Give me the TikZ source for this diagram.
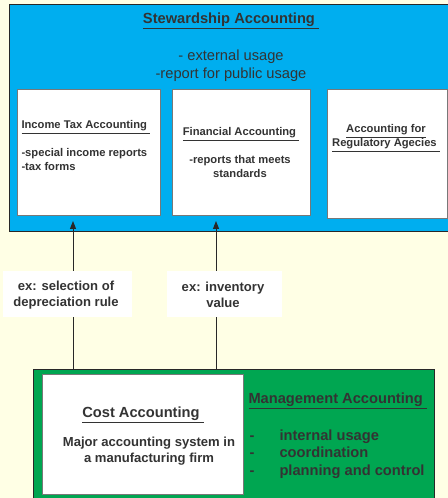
\documentclass[tikz,border=0pt]{standalone}
\usepackage{fontspec}
\setmainfont{Liberation Sans}
\usetikzlibrary{arrows.meta}
\tikzset{every picture/.style={line width=0.75pt}}
\definecolor{paper}{RGB}{255,255,229}
\definecolor{steward}{RGB}{0,174,239}
\definecolor{mgmt}{RGB}{0,166,81}
\definecolor{ink}{RGB}{51,51,51}
\definecolor{edge}{RGB}{40,40,40}
\definecolor{boxedge}{RGB}{120,120,120}

\begin{document}
\begin{tikzpicture}[x=0.75pt,y=0.75pt,yscale=-1,xscale=1,
  panel/.style={draw=boxedge,fill=white,anchor=north west,inner sep=0pt},
  tag/.style={fill=white,anchor=north west,inner sep=0pt},
  boxtext/.style={inner sep=0.75pt,text=ink,font=\fontsize{8.4}{10.5}\selectfont\bfseries},
  headtext/.style={inner sep=0.75pt,text=ink,font=\fontsize{11}{13.5}\selectfont\bfseries},
  feed/.style={draw=edge,-{Triangle[length=6pt,width=4.5pt]}}]
\useasboundingbox (0,0) rectangle (448,498);
\fill [paper] (0,0) rectangle (448,498);

%Stewardship panel
\draw [draw=edge,fill=steward] (9,5) rectangle (455,232);
\node [panel,minimum width=107.25pt,minimum height=94.5pt] (incomeTax) at (17,89) {};
\node [panel,minimum width=103.5pt,minimum height=94.5pt] (financial) at (172,89) {};
\node [panel,minimum width=90pt,minimum height=96.75pt] (regulatory) at (327,89) {};

%Management panel
\draw [draw=edge,fill=mgmt] (33,369) rectangle (434,505);
\node [panel,minimum width=150.75pt,minimum height=90pt] (cost) at (42,374) {};

%Feeds
\coordinate (taxIn) at (73,221);
\coordinate (taxOut) at (73,369);
\coordinate (finIn) at (216,221);
\coordinate (finOut) at (216,369);
\draw [feed] (taxOut) -- (taxIn);
\draw [feed] (finOut) -- (finIn);

%Labels on feeds
\node [tag,minimum width=96.75pt,minimum height=34.5pt] (depTag) at (2,270) {};
\node [tag,minimum width=86.25pt,minimum height=34.5pt] (invTag) at (166,270) {};

% Text Node
\node [headtext] (stewTitle) at (231,21) {\underline{Stewardship Accounting\ }};
% Text Node
\node [inner sep=0.75pt,text=ink,font=\fontsize{11}{13.5}\selectfont,align=center] (stewNotes) at (231,66) {- external usage\\-report for public usage};
% Text Node
\node [boxtext,anchor=west] (taxTitle) at (20,127) {\underline{Income Tax Accounting\ }};
% Text Node
\node [boxtext,anchor=north west,align=left] (taxNotes) at (20,147) {-special income reports\\-tax forms};
% Text Node
\node [boxtext] (finTitle) at (241,134) {\underline{Financial Accounting\ }};
% Text Node
\node [boxtext,align=center] (finNotes) at (240,166) {-reports that meets\\standards};
% Text Node
\node [boxtext,align=center] (regTitle) at (386,138) {\underline{Accounting for}\\\underline{Regulatory Agecies\ }};
% Text Node
\node [boxtext,align=center,font=\fontsize{9.8}{12}\selectfont\bfseries] (depText) at (66,295) {ex: selection of\\depreciation rule};
% Text Node
\node [boxtext,align=center,font=\fontsize{9.8}{12}\selectfont\bfseries] (invText) at (223,295) {ex: inventory\\value};
% Text Node
\node [headtext] (costTitle) at (143,415) {\underline{Cost Accounting\ }};
% Text Node
\node [boxtext,align=center,font=\fontsize{9.8}{12}\selectfont\bfseries] (costNotes) at (149,451.5) {Major accounting system in\\a manufacturing firm};
% Text Node
\node [headtext,anchor=west] (mgmtTitle) at (247,401) {\underline{Management Accounting\ }};
% Text Node
\node [headtext,anchor=base west] (dashA) at (248,440) {-};
\node [headtext,anchor=base west] (mgmtA) at (278,440) {internal usage};
% Text Node
\node [headtext,anchor=base west] (dashB) at (248,457) {-};
\node [headtext,anchor=base west] (mgmtB) at (278,457) {coordination};
% Text Node
\node [headtext,anchor=base west] (dashC) at (248,475) {-};
\node [headtext,anchor=base west] (mgmtC) at (278,475) {planning and control};
\end{tikzpicture}
\end{document}
